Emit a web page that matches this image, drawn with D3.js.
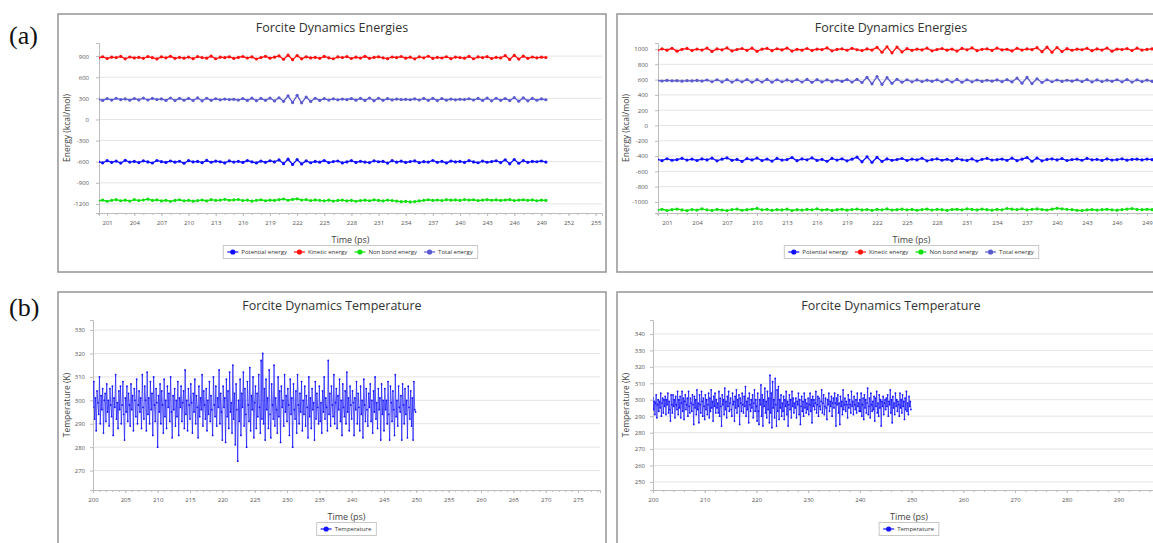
<!DOCTYPE html>
<html>
<head>
<meta charset="utf-8">
<script src="https://cdn.jsdelivr.net/npm/d3@7/dist/d3.min.js"></script>
<style>
body{margin:0;background:#fff}
svg{display:block;font-family:"Open Sans",Arial,sans-serif}
</style>
</head>
<body>
<svg id="fig" width="1153" height="543"></svg>
<script>
// ---- data ----
var energyNames = ["Potential energy", "Kinetic energy", "Non bond energy", "Total energy"];
var energyColors = ["#1010ff", "#ff1010", "#10e010", "#5a5ad0"];
var tempName = "Temperature";

// (a) left, sampled every 0.5 ps from 200 ps
var kineticL = [872,891,866,884,879,895,861,887,874,882,869,893,878,860,889,876,897,868,883,871,
 886,864,892,879,870,899,862,885,877,890,867,881,894,873,888,859,880,896,871,884,
 902,855,913,849,907,861,890,874,883,869,895,876,862,888,879,893,866,884,872,897,
 868,881,890,875,863,887,878,894,870,885,861,889,876,898,867,882,873,891,864,886,
 879,870,895,862,888,877,892,866,883,874,906,852,910,858,899,869,887,875,884,880];
var totalL = [288,270,296,275,300,281,292,274,297,278,303,276,298,282,291,270,305,268,300,273,
 298,269,306,265,301,272,294,279,290,282,287,275,296,270,302,266,299,271,304,263,
 308,258,335,240,342,236,318,256,301,270,296,275,293,279,290,281,297,274,299,270,
 304,266,301,272,295,277,289,283,286,280,292,276,298,271,300,268,296,274,290,279,
 287,282,294,276,299,270,303,265,301,271,297,268,309,259,306,264,298,273,291,280];
var potentialL = [-598,-616,-585,-609,-592,-620,-581,-605,-596,-612,-588,-604,-619,-583,-600,-611,-590,-607,-594,-622,
 -586,-603,-597,-614,-582,-608,-593,-601,-617,-589,-606,-595,-611,-584,-602,-618,-591,-609,-587,-603,
 -575,-628,-565,-640,-570,-632,-588,-615,-596,-607,-584,-612,-599,-590,-617,-603,-586,-610,-594,-605,
 -612,-588,-601,-596,-620,-585,-607,-593,-611,-598,-589,-614,-600,-606,-583,-609,-595,-618,-591,-604,
 -597,-610,-586,-603,-615,-592,-608,-599,-587,-612,-574,-630,-569,-622,-585,-609,-596,-601,-590,-605];
var nonbondL = [-1158,-1145,-1162,-1149,-1140,-1155,-1147,-1160,-1138,-1152,-1144,-1133,-1151,-1142,-1157,-1148,-1163,-1150,-1141,-1156,
 -1149,-1161,-1153,-1144,-1158,-1139,-1150,-1146,-1135,-1148,-1143,-1137,-1152,-1145,-1160,-1149,-1141,-1155,-1147,-1151,
 -1139,-1130,-1148,-1136,-1127,-1145,-1138,-1152,-1143,-1149,-1156,-1147,-1160,-1151,-1145,-1158,-1149,-1162,-1153,-1147,
 -1155,-1142,-1150,-1157,-1146,-1153,-1160,-1168,-1163,-1171,-1166,-1158,-1149,-1141,-1150,-1144,-1152,-1139,-1147,-1143,
 -1150,-1138,-1146,-1141,-1153,-1145,-1140,-1148,-1142,-1151,-1144,-1139,-1152,-1146,-1141,-1149,-1143,-1155,-1147,-1150];

// (a) right, sampled every 0.5 ps from 200 ps
var kineticR = [978,1003,985,1010,972,996,1008,981,999,987,1012,969,1001,990,1015,975,994,1006,983,1011,
 970,998,1009,979,1004,988,1013,974,997,985,1007,981,1000,992,1014,976,995,1003,984,1009,
 991,980,1002,987,1022,958,1030,950,1026,962,1005,983,998,989,1011,977,994,1006,985,1000,
 973,1008,990,1015,979,996,1003,982,1012,988,997,975,1010,986,1001,992,1018,966,1024,959,
 1020,968,1005,984,998,991,1009,978,1002,987,1013,972,1000,993,1006,981,1011,986,995,1002];
var totalR = [588,582,590,584,586,580,588,583,589,581,595,572,598,570,600,568,597,571,601,566,
 599,569,602,567,598,572,596,574,600,569,603,565,599,570,597,573,595,576,601,568,
 604,562,630,545,640,538,625,552,605,566,598,571,596,575,593,578,597,572,600,569,
 602,566,598,571,595,576,592,579,596,573,599,570,620,553,628,548,610,562,598,572,
 595,576,592,579,597,574,600,570,596,575,593,578,598,571,601,568,597,574,594,578];
var potentialR = [-442,-460,-435,-455,-448,-430,-452,-440,-458,-437,-450,-428,-462,-441,-425,-456,-444,-470,-433,-451,
 -427,-459,-439,-466,-431,-453,-446,-420,-461,-438,-449,-424,-457,-443,-468,-430,-452,-436,-463,-441,
 -415,-475,-410,-482,-418,-470,-437,-456,-445,-432,-458,-440,-451,-429,-463,-447,-436,-455,-442,-460,
 -434,-449,-457,-438,-465,-443,-430,-452,-447,-439,-456,-428,-460,-441,-420,-468,-426,-462,-444,-437,
 -451,-433,-458,-446,-440,-455,-431,-449,-443,-457,-438,-452,-447,-436,-454,-444,-441,-450,-439,-446];
var nonbondR = [-1108,-1096,-1112,-1101,-1093,-1105,-1115,-1099,-1107,-1092,-1104,-1111,-1098,-1106,-1113,-1100,-1094,-1109,-1102,-1096,
 -1085,-1103,-1097,-1110,-1100,-1105,-1095,-1112,-1101,-1107,-1098,-1104,-1091,-1106,-1099,-1111,-1102,-1096,-1108,-1100,
 -1094,-1105,-1099,-1110,-1097,-1103,-1092,-1106,-1101,-1095,-1104,-1098,-1109,-1100,-1093,-1106,-1097,-1102,-1111,-1099,
 -1096,-1103,-1090,-1098,-1105,-1094,-1101,-1108,-1097,-1104,-1086,-1095,-1100,-1091,-1103,-1097,-1092,-1099,-1106,-1095,
 -1083,-1090,-1097,-1102,-1109,-1112,-1104,-1099,-1107,-1101,-1096,-1103,-1108,-1100,-1094,-1087,-1098,-1102,-1096,-1100];

// (b) temperatures, sampled every 0.125 ps from 200 ps
var tempL = [297,308,292,301,287,304,299,294,310,290,302,296,305,286,300,303,291,307,295,300,
 289,305,298,293,306,285,301,297,311,292,299,288,304,296,306,290,298,308,294,283,
 301,295,306,291,303,298,289,307,296,302,287,305,300,293,309,290,298,304,295,301,
 288,311,297,292,306,300,287,312,294,301,290,308,296,303,285,310,298,291,305,299,
 280,302,295,307,290,304,298,286,309,293,300,288,306,297,303,291,310,295,284,302,
 296,305,289,300,293,308,285,301,297,306,291,299,304,288,313,294,300,287,305,298,
 292,307,299,286,303,295,309,290,302,297,284,306,293,301,296,311,289,304,298,292,
 305,287,300,294,308,291,302,296,285,310,298,293,306,289,301,297,313,290,303,295,
 283,306,297,301,282,309,293,304,288,312,295,299,286,315,292,303,281,307,296,274,
 300,291,309,285,303,297,312,289,305,294,280,308,298,291,314,287,302,296,310,284,
 299,306,288,303,293,311,297,286,317,292,320,290,305,283,309,296,301,288,313,294,
 284,307,298,292,315,289,301,296,286,310,293,304,282,306,297,300,289,311,295,302,
 291,305,298,285,309,294,301,280,307,296,292,304,286,311,298,290,303,295,308,287,
 300,294,306,289,302,297,284,310,293,301,288,305,296,299,283,308,292,303,297,290,
 306,291,299,286,304,295,310,292,301,297,287,317,294,303,289,306,298,293,311,290,
 299,305,288,302,296,309,291,300,285,307,297,293,304,290,312,295,301,287,306,298,
 292,304,299,285,301,296,308,290,303,297,287,306,294,300,284,309,298,291,305,296,
 289,303,297,307,291,300,286,304,295,310,292,299,288,305,296,301,283,307,294,300,
 287,305,296,300,290,308,294,283,306,299,291,304,296,285,311,293,300,289,306,297,
 295,302,283,307,298,290,305,294,300,284,306,297,292,304,289,301,283,308,296,295];
var tempR = [301,294,299,291,298,303,289,297,300,293,299,295,304,290,298,301,292,300,296,302,
 291,300,297,304,292,299,294,287,303,297,292,303,296,300,289,302,297,294,305,291,
 300,295,302,289,298,305,293,301,288,299,303,294,297,301,290,305,296,292,301,298,
 293,303,297,285,302,295,300,291,306,294,298,286,303,297,292,305,299,290,301,296,
 288,303,294,300,291,297,304,289,301,293,306,295,299,287,302,296,304,292,300,295,
 298,292,305,290,301,296,284,303,297,300,291,307,294,299,289,302,296,305,293,298,
 301,294,290,304,297,299,287,302,295,306,292,300,296,303,285,301,298,293,304,297,
 292,302,296,308,290,299,294,301,286,304,297,293,300,295,303,289,298,306,293,300,
 296,287,304,293,285,300,297,309,290,303,284,300,296,307,292,299,289,305,294,301,
 286,315,292,304,283,311,295,300,289,313,297,284,306,293,308,288,300,295,303,290,
 298,293,302,288,300,296,305,291,299,284,297,303,294,300,289,305,296,301,292,298,
 295,301,289,299,297,304,291,300,285,296,302,293,299,290,304,295,300,292,298,294,
 301,291,297,304,293,300,286,302,296,300,294,298,305,292,297,302,290,301,296,294,
 299,306,292,298,303,291,296,301,295,288,300,297,304,293,299,296,302,290,298,301,
 295,304,298,284,301,297,303,292,298,285,302,296,299,291,306,294,297,301,293,299,
 297,289,303,295,300,297,292,305,296,299,291,302,297,294,300,292,304,296,298,293,
 300,293,304,290,297,301,288,303,295,300,292,298,307,291,296,301,289,304,297,293,
 299,294,302,287,301,296,305,292,298,290,303,295,300,284,299,296,302,291,298,300,
 294,301,296,303,290,299,297,306,292,300,286,302,295,298,291,304,296,300,293,299,
 297,290,304,295,300,292,303,296,299,288,301,294,305,293,298,291,302,296,299,294];

var energyTicksL = [-1200,-900,-600,-300,0,300,600,900];
var energyTicksR = [-1000,-800,-600,-400,-200,0,200,400,600,800,1000];
var timeTicksAL = d3.range(201, 256, 3);
var timeTicksAR = d3.range(201, 250, 3);
var tempTicksL = [270,280,290,300,310,320,330];
var tempTicksR = [250,260,270,280,290,300,310,320,330,340];
var timeTicksBL = d3.range(200, 280, 5);
var timeTicksBR = d3.range(200, 300, 10);

var svg = d3.select("#fig");
svg.append("rect").attr("width", 1153).attr("height", 543).attr("fill", "#fff");

function toPoints(values, step){
    return values.map(function(v, i){ return [200 + i*step, v]; });
}

function drawLegend(g, items, cx, cy){
    var lg = g.append("g");
    var pos = 0;
    items.forEach(function(it){
        var item = lg.append("g").attr("transform", "translate(" + pos + ",0)");
        item.append("line").attr("x1", 0).attr("x2", 11).attr("y1", 0).attr("y2", 0)
            .attr("stroke", it.color).attr("stroke-width", 1.2);
        item.append("circle").attr("cx", 5.5).attr("cy", 0).attr("r", 2.6).attr("fill", it.color);
        var t = item.append("text").attr("x", 14).attr("y", 0).attr("dy", "0.35em")
            .style("font-size", "6px").style("fill", "#333").text(it.name);
        pos += 14 + t.node().getComputedTextLength() + 7;
    });
    var w = pos + 2;
    lg.attr("transform", "translate(" + (cx - w/2 + 4) + "," + cy + ")");
    lg.insert("rect", "g").attr("x", -4).attr("y", -6.5).attr("width", w).attr("height", 13)
        .attr("fill", "#fff").attr("stroke", "#c8c8c8").attr("stroke-width", 1);
}

var clipId = 0;
function drawPanel(p){
    var g = svg.append("g");
    g.append("rect")
        .attr("x", p.frame[0]).attr("y", p.frame[1])
        .attr("width", p.frame[2]).attr("height", p.frame[3])
        .attr("fill", "#fff").attr("stroke", "#9c9c9c").attr("stroke-width", 1.6);

    var x = d3.scaleLinear().domain(p.xDomain).range([p.left, p.right]);
    var y = d3.scaleLinear().domain(p.yDomain).range([p.bottom, p.top]);

    // title
    g.append("text").attr("x", p.frame[0] + p.frame[2]/2).attr("y", p.frame[1] + 18)
        .attr("text-anchor", "middle").style("font-size", "12.5px").style("fill", "#333")
        .text(p.title);

    // horizontal grid
    g.selectAll("line.grid").data(p.yTicks).enter().append("line")
        .attr("class", "grid")
        .attr("x1", p.left).attr("x2", p.right)
        .attr("y1", function(d){ return y(d); }).attr("y2", function(d){ return y(d); })
        .attr("stroke", "#e4e4e4").attr("stroke-width", 1);

    // minor ticks
    var minorX = g.append("g").attr("transform", "translate(0," + p.bottom + ")")
        .call(d3.axisBottom(x).tickValues(p.xMinor).tickSize(2).tickFormat(""));
    minorX.select(".domain").remove();
    minorX.selectAll("line").attr("stroke", "#bbb");

    var xa = g.append("g").attr("transform", "translate(0," + p.bottom + ")")
        .call(d3.axisBottom(x).tickValues(p.xTicks).tickSize(3).tickPadding(5)
            .tickFormat(function(d){ return String(d); }));
    var ya = g.append("g").attr("transform", "translate(" + p.left + ",0)")
        .call(d3.axisLeft(y).tickValues(p.yTicks).tickSize(3).tickPadding(p.yPad)
            .tickFormat(function(d){ return String(d); }));
    [xa, ya].forEach(function(a){
        a.select(".domain").attr("stroke", "#bdbdbd");
        a.selectAll(".tick line").attr("stroke", "#bbb");
        a.selectAll("text").style("font-size", "6px").style("fill", "#555")
            .style("font-family", "'Open Sans',Arial,sans-serif");
    });

    // axis titles
    g.append("text").attr("x", (p.left + p.right)/2).attr("y", p.bottom + 30)
        .attr("text-anchor", "middle").style("font-size", "9px").style("fill", "#444")
        .text("Time (ps)");
    g.append("text")
        .attr("transform", "translate(" + (p.frame[0] + 12) + "," + ((p.top + p.bottom)/2) + ") rotate(-90)")
        .attr("text-anchor", "middle").style("font-size", "8.5px").style("fill", "#444")
        .text(p.yTitle);

    // series
    clipId++;
    g.append("clipPath").attr("id", "clip" + clipId).append("rect")
        .attr("x", p.left).attr("y", p.top - 5).attr("width", p.right - p.left).attr("height", p.bottom - p.top + 5);
    var plot = g.append("g").attr("clip-path", "url(#clip" + clipId + ")");
    var line = d3.line().x(function(d){ return x(d[0]); }).y(function(d){ return y(d[1]); });
    p.series.forEach(function(s){
        var pts = toPoints(s.values, p.step);
        plot.append("path").datum(pts).attr("d", line)
            .attr("fill", "none").attr("stroke", s.color).attr("stroke-width", p.lineWidth);
        plot.selectAll(null).data(pts).enter().append("circle")
            .attr("cx", function(d){ return x(d[0]); })
            .attr("cy", function(d){ return y(d[1]); })
            .attr("r", p.dot).attr("fill", s.color);
    });

    drawLegend(g, p.series.map(function(s){ return {name: s.name, color: s.color}; }),
        (p.left + p.right)/2, p.bottom + 39);
}

var energySeriesL = [potentialL, kineticL, nonbondL, totalL].map(function(v, i){
    return {name: energyNames[i], color: energyColors[i], values: v};
});
var energySeriesR = [potentialR, kineticR, nonbondR, totalR].map(function(v, i){
    return {name: energyNames[i], color: energyColors[i], values: v};
});

drawPanel({
    frame: [58, 14, 548, 258], title: "Forcite Dynamics Energies", yTitle: "Energy (kcal/mol)",
    left: 99, right: 602, top: 43, bottom: 213,
    xDomain: [200.1, 255.7], yDomain: [-1329, 1086],
    xTicks: timeTicksAL, xMinor: d3.range(200, 256, 1), yTicks: energyTicksL, yPad: 7,
    step: 0.5, lineWidth: 1.3, dot: 1.6, series: energySeriesL
});
drawPanel({
    frame: [617, 14, 548, 258], title: "Forcite Dynamics Energies", yTitle: "Energy (kcal/mol)",
    left: 658, right: 1165, top: 43, bottom: 213,
    xDomain: [200.1, 250.8], yDomain: [-1145, 1079],
    xTicks: timeTicksAR, xMinor: d3.range(200, 251, 1), yTicks: energyTicksR, yPad: 7,
    step: 0.5, lineWidth: 1.3, dot: 1.6, series: energySeriesR
});
drawPanel({
    frame: [58, 292, 548, 260], title: "Forcite Dynamics Temperature", yTitle: "Temperature (K)",
    left: 93, right: 600, top: 320, bottom: 490,
    xDomain: [200, 278.4], yDomain: [261.7, 334.3],
    xTicks: timeTicksBL, xMinor: d3.range(200, 279, 1), yTicks: tempTicksL, yPad: 5,
    step: 0.125, lineWidth: 0.7, dot: 0.9, series: [{name: tempName, color: "#1515ff", values: tempL}]
});
drawPanel({
    frame: [617, 292, 548, 260], title: "Forcite Dynamics Temperature", yTitle: "Temperature (K)",
    left: 653, right: 1165, top: 320, bottom: 490,
    xDomain: [200, 299], yDomain: [245.1, 348.5],
    xTicks: timeTicksBR, xMinor: d3.range(200, 300, 2), yTicks: tempTicksR, yPad: 5,
    step: 0.125, lineWidth: 0.7, dot: 0.9, series: [{name: tempName, color: "#1515ff", values: tempR}]
});

// panel letters
svg.append("text").attr("x", 9).attr("y", 44).style("font-family", "'Liberation Serif','Times New Roman',serif")
    .style("font-size", "26px").style("fill", "#111").text("(a)");
svg.append("text").attr("x", 9).attr("y", 316).style("font-family", "'Liberation Serif','Times New Roman',serif")
    .style("font-size", "26px").style("fill", "#111").text("(b)");
</script>
</body>
</html>
